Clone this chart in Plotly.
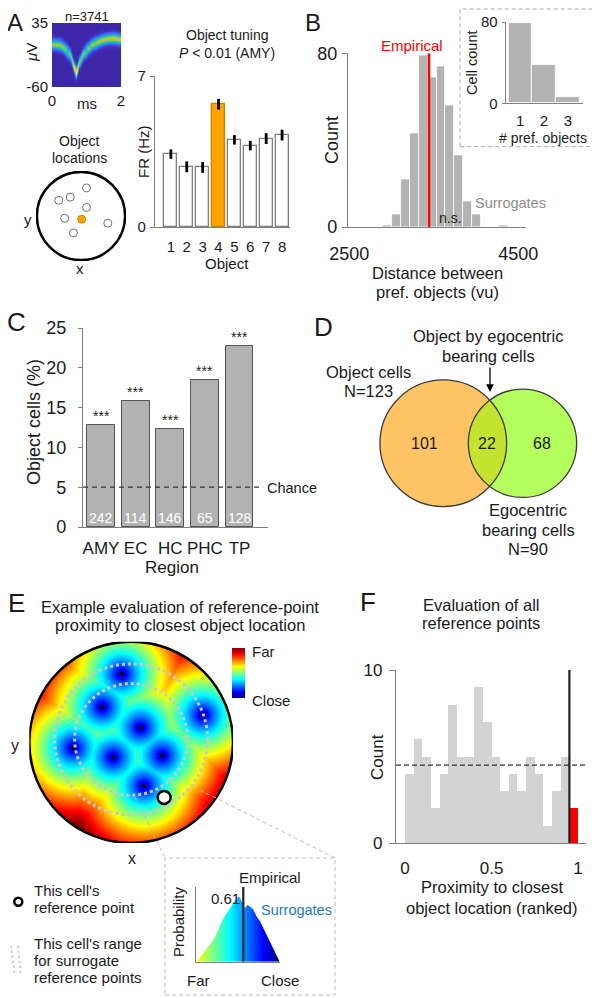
import numpy as np
import plotly.graph_objects as go

# page body has an 8px margin: the figure is sized/offset so the page matches the reference pixels
OFF = 8
W, H = 600 - OFF, 998 - OFF
def PX(x): return (x - OFF) / W
def PY(y): return 1 - (y - OFF) / H

FONT = "Liberation Sans, Arial, sans-serif"
TXT = "#1a1a1a"
AXC = "#808080"

# ---------------- data ----------------
# A: mean waveform (density band)
wf_t = [0.0, 0.1, 0.2, 0.29, 0.39, 0.49, 0.54, 0.59, 0.62, 0.65, 0.69, 0.72, 0.75,
        0.79, 0.83, 0.88, 0.93, 1.04, 1.17, 1.32, 1.46, 1.61, 1.76, 1.9, 2.0]
wf_mean = [3.5, 3.5, 2.6, 0.2, -3.5, -10.4, -16, -22, -27, -31.3, -38, -34, -29,
           -23, -18.3, -13.5, -9.5, -2.5, 3, 7.2, 10, 11.8, 12.3, 11.4, 10.4]
wf_peak = [0.6, 0.62, 0.62, 0.62, 0.6, 0.58, 0.58, 0.62, 0.7, 0.8, 1.0, 0.85, 0.7,
           0.62, 0.6, 0.6, 0.6, 0.62, 0.64, 0.65, 0.65, 0.66, 0.66, 0.66, 0.64]
n_spikes = 3741
wf_yticks = [-60, 35]
wf_yticktext = ["-60", "35"]

# A: object tuning
obj_ids = [1, 2, 3, 4, 5, 6, 7, 8]
fr_mean = [3.38, 2.79, 2.76, 5.69, 4.04, 3.77, 4.10, 4.26]
fr_sem = [0.22, 0.25, 0.25, 0.25, 0.22, 0.22, 0.25, 0.25]
pref_obj = 4

# A: object locations (arena units, radius 1)
loc_x = [0.126, -0.244, -0.504, 0.126, -0.371, 0.015, 0.607, -0.171]
loc_y = [0.637, 0.429, 0.356, 0.193, -0.051, -0.073, -0.162, -0.384]
loc_pref = 5

# B: surrogate distances
dist_centers = [2955, 3060, 3165, 3270, 3375, 3480, 3585, 3690, 3796, 3901, 4006, 4321]
dist_counts = [1, 6, 22, 43, 79, 69, 74, 56, 33, 12, 6, 1]
dist_binw = 105
dist_empirical = 3443
n_pref_objects = [1, 2, 3]
n_pref_cells = [79, 38, 6]

# C: object cells per region
regions = ["AMY", "EC", "HC", "PHC", "TP"]
pct_obj = [12.8, 15.8, 12.3, 18.5, 22.7]
n_region = [242, 114, 146, 65, 128]
chance_pct = 5

# D: venn
n_object = 123
n_ego = 90
n_both = 22

# E: object locations and reference point (arena units)
obj_x = [-0.093, -0.284, 0.706, 0.093, -0.568, -0.176, 0.307, 0.127]
obj_y = [0.678, 0.351, 0.270, 0.146, -0.057, -0.149, -0.132, -0.433]
ref_x, ref_y = 0.324, -0.547
ring_r = [0.555, 0.75]
ring_cy = 0.03
# E inset: surrogate proximity distribution
prox_x = [0.008, 0.067, 0.127, 0.167, 0.206, 0.246, 0.286, 0.325, 0.365, 0.405, 0.444,
          0.484, 0.512, 0.544, 0.563, 0.583, 0.611, 0.643, 0.683, 0.722, 0.762, 0.802,
          0.841, 0.881, 0.921, 0.960, 0.992]
prox_p = [0.0, 0.09, 0.18, 0.247, 0.29, 0.38, 0.49, 0.58, 0.65, 0.72, 0.785, 0.85, 0.875,
          0.807, 0.76, 0.72, 0.76, 0.74, 0.695, 0.605, 0.54, 0.45, 0.36, 0.27, 0.18, 0.09, 0.01]
prox_emp = 0.563

# F: ranked proximity of all cells
rank_centers = [0.025, 0.075, 0.125, 0.175, 0.225, 0.275, 0.325, 0.375, 0.425, 0.475,
                0.525, 0.575, 0.625, 0.675, 0.725, 0.775, 0.825, 0.875, 0.925, 0.975]
rank_counts = [4, 6, 5, 2, 4, 8, 5, 5, 9, 7, 5, 3, 4, 3, 5, 4, 1, 3, 5, 2]
rank_chance = 4.5
rank_thr = 0.95

PARULA = [[0, "#3E26A8"], [0.125, "#4852F4"], [0.25, "#2D87F7"], [0.375, "#12B1D6"],
          [0.5, "#37C897"], [0.625, "#ABC738"], [0.75, "#FEC338"], [0.875, "#F6E620"],
          [1, "#F9FB15"]]
JET = [[0, "#000080"], [0.125, "#0000FF"], [0.375, "#00FFFF"], [0.625, "#FFFF00"],
       [0.875, "#FF0000"], [1, "#800000"]]

fig = go.Figure()
annots = []
shapes = []

def T(text, x, y, size=15, color=TXT, xa="center", ya="middle", angle=0):
    annots.append(dict(text=text, x=PX(x), y=PY(y), xref="paper", yref="paper",
                       xanchor=xa, yanchor=ya, showarrow=False, textangle=angle, borderpad=0,
                       font=dict(size=size, color=color, family=FONT)))

def hidden(dom, rng):
    return dict(domain=dom, range=rng, visible=False, fixedrange=True)

# ---------- A: waveform ----------
vgrid = np.arange(-60, 35.5, 1.0)
Z = np.array([[p * np.exp(-(v - m) ** 2 / (2 * 5.0 ** 2)) for p, m in zip(wf_peak, wf_mean)]
              for v in vgrid])
fig.add_trace(go.Heatmap(x=wf_t, y=vgrid, z=Z, colorscale=PARULA, zmin=0, zmax=1,
                         zsmooth="best", showscale=False, xaxis="x", yaxis="y", hoverinfo="skip"))

# ---------- A: bar chart ----------
bar_cols = ["#FFA500" if i == pref_obj else "white" for i in obj_ids]
bar_lc = ["#C98200" if i == pref_obj else "#7f7f7f" for i in obj_ids]
fig.add_trace(go.Bar(x=obj_ids, y=fr_mean, width=0.82,
                     marker=dict(color=bar_cols, line=dict(color=bar_lc, width=1.3)),
                     error_y=dict(type="data", array=fr_sem, color="black", thickness=2.8, width=0),
                     xaxis="x2", yaxis="y2", showlegend=False))

# ---------- A: object locations ----------
lc = ["#FFA500" if i == loc_pref else "white" for i in range(len(loc_x))]
ll = ["#C98200" if i == loc_pref else "#707070" for i in range(len(loc_x))]
fig.add_trace(go.Scatter(x=loc_x, y=loc_y, mode="markers",
                         marker=dict(size=8, color=lc, line=dict(color=ll, width=1)),
                         xaxis="x3", yaxis="y3", showlegend=False))
shapes.append(dict(type="circle", xref="x3", yref="y3", x0=-1, x1=1, y0=-1, y1=1,
                   line=dict(color="black", width=2.5)))

# ---------- B: histogram ----------
fig.add_trace(go.Bar(x=dist_centers, y=dist_counts, width=dist_binw,
                     marker=dict(color="#B3B3B3", line=dict(color="white", width=0.8)),
                     xaxis="x4", yaxis="y4", showlegend=False))
fig.add_trace(go.Scatter(x=[dist_empirical, dist_empirical], y=[0, 80], mode="lines",
                         line=dict(color="#FF0000", width=2.6), xaxis="x4", yaxis="y4",
                         showlegend=False))
fig.add_trace(go.Bar(x=n_pref_objects, y=n_pref_cells, width=1,
                     marker=dict(color="#B3B3B3", line=dict(color="white", width=0.8)),
                     xaxis="x5", yaxis="y5", showlegend=False))

# ---------- C ----------
fig.add_trace(go.Bar(x=[1, 2, 3, 4, 5], y=pct_obj, width=0.8,
                     marker=dict(color="#B2B2B2", line=dict(color="#555555", width=1)),
                     xaxis="x6", yaxis="y6", showlegend=False))
fig.add_trace(go.Scatter(x=[0.48, 5.68], y=[chance_pct, chance_pct], mode="lines",
                         line=dict(color="#333333", width=1.2, dash="5px,4px"),
                         xaxis="x6", yaxis="y6", showlegend=False))
for i, (p, n) in enumerate(zip(pct_obj, n_region)):
    annots.append(dict(text="***", x=i + 1, y=p, xref="x6", yref="y6", yanchor="bottom",
                       showarrow=False, yshift=0, borderpad=0,
                       font=dict(size=14, color=TXT, family=FONT)))
    annots.append(dict(text=str(n), x=i + 1, y=0, xref="x6", yref="y6", yanchor="bottom",
                       showarrow=False, yshift=0, borderpad=0,
                       font=dict(size=14, color="white", family=FONT)))

# ---------- D: venn (area-proportional radii) ----------
k = 5.71
r1, r2 = k * np.sqrt(n_object), k * np.sqrt(n_ego)
c1 = (443.3, 443.3)
c2 = (522.5, 443.3)
d = c2[0] - c1[0]
a = (d ** 2 + r1 ** 2 - r2 ** 2) / (2 * d)
h = np.sqrt(r1 ** 2 - a ** 2)
th1 = np.arctan2(h, a)
th2 = np.arctan2(h, d - a)
ang1 = np.linspace(-th1, th1, 60)
ang2 = np.linspace(np.pi - th2, np.pi + th2, 60)
pts = [(c1[0] + r1 * np.cos(t), c1[1] + r1 * np.sin(t)) for t in ang1] + \
      [(c2[0] + r2 * np.cos(t), c2[1] + r2 * np.sin(t)) for t in ang2]
lens = "M " + " L ".join(f"{x:.2f},{y:.2f}" for x, y in pts) + " Z"
shapes.append(dict(type="circle", xref="x7", yref="y7", x0=c1[0] - r1, x1=c1[0] + r1,
                   y0=c1[1] - r1, y1=c1[1] + r1, fillcolor="#FFC466", line=dict(width=0)))
shapes.append(dict(type="circle", xref="x7", yref="y7", x0=c2[0] - r2, x1=c2[0] + r2,
                   y0=c2[1] - r2, y1=c2[1] + r2, fillcolor="#B4FF5E", line=dict(width=0)))
shapes.append(dict(type="path", xref="x7", yref="y7", path=lens, fillcolor="#C4E32E",
                   line=dict(width=0)))
for (cx, cy), r in ((c1, r1), (c2, r2)):
    shapes.append(dict(type="circle", xref="x7", yref="y7", x0=cx - r, x1=cx + r,
                       y0=cy - r, y1=cy + r, line=dict(color="#3a3a3a", width=1.3)))
fig.add_trace(go.Scatter(x=[300, 600], y=[300, 600], mode="markers", marker=dict(opacity=0),
                         xaxis="x7", yaxis="y7", showlegend=False, hoverinfo="skip"))
annots.append(dict(text=str(n_object - n_both), x=(c1[0] - r1 + c2[0] - r2) / 2, y=c1[1],
                   xref="x7", yref="y7", showarrow=False, font=dict(size=16, color=TXT, family=FONT)))
annots.append(dict(text=str(n_both), x=(c2[0] - r2 + c1[0] + r1) / 2, y=c1[1],
                   xref="x7", yref="y7", showarrow=False, font=dict(size=16, color=TXT, family=FONT)))
annots.append(dict(text=str(n_ego - n_both), x=(c1[0] + r1 + c2[0] + r2) / 2, y=c1[1],
                   xref="x7", yref="y7", showarrow=False, font=dict(size=16, color=TXT, family=FONT)))

# ---------- E: arena heatmap (proximity to closest object) ----------
g = np.linspace(-1, 1, 301)
GX, GY = np.meshgrid(g, g)
Dm = np.min(np.sqrt((GX[..., None] - np.array(obj_x)) ** 2 + (GY[..., None] - np.array(obj_y)) ** 2), axis=-1)
Zd = np.clip(Dm / 0.75, 0, 1) ** 0.75
Zd[GX ** 2 + GY ** 2 > 1.0] = np.nan
fig.add_trace(go.Heatmap(x=g, y=g, z=Zd, colorscale=JET, zmin=0, zmax=1, hoverinfo="skip",
                         xaxis="x8", yaxis="y8",
                         colorbar=dict(x=PX(232), xanchor="left", xpad=0, thickness=13,
                                       len=50 / H, lenmode="fraction", y=PY(673), yanchor="middle",
                                       ypad=0, outlinewidth=0, showticklabels=False, ticks="")))
for r in ring_r:
    shapes.append(dict(type="circle", xref="x8", yref="y8", x0=-r, x1=r, y0=ring_cy - r,
                       y1=ring_cy + r, line=dict(color="#C8C8C8", width=3, dash="3px,3px")))
shapes.append(dict(type="circle", xref="x8", yref="y8", x0=-1, x1=1, y0=-1, y1=1,
                   line=dict(color="black", width=2.5)))
fig.add_trace(go.Scatter(x=obj_x, y=obj_y, mode="markers", marker=dict(size=4, color="black"),
                         xaxis="x8", yaxis="y8", showlegend=False))
fig.add_trace(go.Scatter(x=[ref_x], y=[ref_y], mode="markers",
                         marker=dict(size=13, color="white", line=dict(color="black", width=2.5)),
                         xaxis="x8", yaxis="y8", showlegend=False))

# E inset
fig.add_trace(go.Scatter(x=prox_x, y=prox_p, mode="lines", line=dict(width=0, color="#1030A0"),
                         fill="tozeroy",
                         fillgradient=dict(type="horizontal", start=0, stop=1,
                                           colorscale=[[0, "#FFFF00"], [0.2, "#80FF80"],
                                                       [0.4, "#00FFFF"], [0.6, "#0080FF"],
                                                       [0.8, "#0000FF"], [1, "#000080"]]),
                         xaxis="x9", yaxis="y9", showlegend=False))
fig.add_trace(go.Scatter(x=[prox_emp, prox_emp], y=[0, 1], mode="lines",
                         line=dict(color="#222222", width=2.2), xaxis="x9", yaxis="y9",
                         showlegend=False))

# ---------- F ----------
fcols = ["#FF0000" if c > rank_thr else "#D3D3D3" for c in rank_centers]
fig.add_trace(go.Bar(x=rank_centers, y=rank_counts, width=0.05,
                     marker=dict(color=fcols, line=dict(width=0)),
                     xaxis="x10", yaxis="y10", showlegend=False))
fig.add_trace(go.Scatter(x=[-0.052, 1.046], y=[rank_chance, rank_chance], mode="lines",
                         line=dict(color="#333333", width=1.1, dash="5px,3px"),
                         xaxis="x10", yaxis="y10", showlegend=False))
fig.add_trace(go.Scatter(x=[rank_thr, rank_thr], y=[0, 10], mode="lines",
                         line=dict(color="#222222", width=2.2), xaxis="x10", yaxis="y10",
                         showlegend=False))

# ---------- axes ----------
tf = lambda s: dict(size=s, color=TXT, family=FONT)
lay = dict(
    xaxis=dict(domain=[PX(52), PX(121)], range=[0, 2], tickvals=[0, 2], ticktext=["0", "2"],
               ticks="", showline=False, showgrid=False, zeroline=False, tickfont=tf(15),
               ticklabelstandoff=3, fixedrange=True),
    yaxis=dict(domain=[PY(87), PY(23)], range=[-60, 35], tickvals=wf_yticks,
               ticktext=wf_yticktext, ticks="",
               showline=False, showgrid=False, zeroline=False, tickfont=tf(15),
               ticklabelstandoff=3, fixedrange=True),
    xaxis2=dict(domain=[PX(155), PX(290)], range=[0, 8.5], tickvals=obj_ids, ticks="",
                showline=True, linecolor=AXC, linewidth=1.2, showgrid=False, zeroline=False,
                tickfont=tf(15), ticklabelstandoff=6, anchor="y2", fixedrange=True),
    yaxis2=dict(domain=[PY(227), PY(76)], range=[0, 7], tickvals=[0, 7], ticks="outside",
                ticklen=4, tickcolor=AXC, showline=True, linecolor=AXC, linewidth=1.2,
                showgrid=False, zeroline=False, tickfont=tf(15), ticklabelstandoff=1,
                anchor="x2", fixedrange=True),
    xaxis3=hidden([PX(36), PX(126)], [-1.02, 1.02]),
    yaxis3=dict(hidden([PY(261), PY(171)], [-1.02, 1.02]), anchor="x3"),
    xaxis4=dict(domain=[PX(348), PX(526)], range=[2485, 4591], tickvals=[2500, 4500],
                ticks="", showline=True, linecolor=AXC, linewidth=1.2, showgrid=False,
                zeroline=False, tickfont=tf(18), ticklabelstandoff=10, anchor="y4", fixedrange=True),
    yaxis4=dict(domain=[PY(227), PY(53.3)], range=[0, 80], tickvals=[0, 80], ticks="outside",
                ticklen=5, tickcolor=AXC, showline=True, linecolor=AXC, linewidth=1.2,
                showgrid=False, zeroline=False, tickfont=tf(18), ticklabelstandoff=1,
                anchor="x4", fixedrange=True),
    xaxis5=dict(domain=[PX(505.7), PX(583.3)], range=[0.39, 3.65], tickvals=[1, 2, 3],
                ticks="", showline=True, linecolor=AXC, linewidth=1.2, showgrid=False,
                zeroline=False, tickfont=tf(15), ticklabelstandoff=4, anchor="y5", fixedrange=True),
    yaxis5=dict(domain=[PY(103.3), PY(22)], range=[0, 80], tickvals=[0, 80], ticks="outside",
                ticklen=3, tickcolor=AXC, showline=True, linecolor=AXC, linewidth=1.2,
                showgrid=False, zeroline=False, tickfont=tf(15), ticklabelstandoff=1,
                anchor="x5", fixedrange=True),
    xaxis6=dict(domain=[PX(83), PX(268)], range=[0.48, 5.82], tickvals=[1, 2, 3, 4, 5],
                ticktext=regions, ticks="", showline=True, linecolor=AXC, linewidth=1.2,
                showgrid=False, zeroline=False, tickfont=tf(17), ticklabelstandoff=5,
                anchor="y6", fixedrange=True),
    yaxis6=dict(domain=[PY(527), PY(328)], range=[0, 25], tickvals=[0, 5, 10, 15, 20, 25],
                ticks="outside", ticklen=4, tickcolor=AXC, showline=True, linecolor=AXC,
                linewidth=1.2, showgrid=False, zeroline=False, tickfont=tf(18),
                ticklabelstandoff=8, anchor="x6", fixedrange=True),
    xaxis7=hidden([PX(300), PX(600)], [300, 600]),
    yaxis7=dict(hidden([PY(600), PY(300)], [600, 300]), anchor="x7"),
    xaxis8=hidden([PX(29.3), PX(233)], [-1, 1]),
    yaxis8=dict(hidden([PY(843), PY(641.7)], [-1, 1]), anchor="x8"),
    xaxis9=dict(domain=[PX(196), PX(280)], range=[0, 1], showticklabels=False, ticks="",
                showline=True, linecolor=AXC, linewidth=1.2, showgrid=False, zeroline=False,
                anchor="y9", fixedrange=True),
    yaxis9=dict(domain=[PY(961.7), PY(887)], range=[0, 1], showticklabels=False, ticks="",
                showline=True, linecolor=AXC, linewidth=1.2, showgrid=False, zeroline=False,
                anchor="x9", fixedrange=True),
    xaxis10=dict(domain=[PX(396), PX(586)], range=[-0.052, 1.046], tickvals=[0, 0.5, 1],
                 ticktext=["0", "0.5", "1"], ticks="", showline=True, linecolor=AXC,
                 linewidth=1.2, showgrid=False, zeroline=False, tickfont=tf(17),
                 ticklabelstandoff=9, anchor="y10", fixedrange=True),
    yaxis10=dict(domain=[PY(843), PY(670)], range=[0, 10], tickvals=[0, 10], ticks="outside",
                 ticklen=6, tickcolor=AXC, showline=True, linecolor=AXC, linewidth=1.2,
                 showgrid=False, zeroline=False, tickfont=tf(17), ticklabelstandoff=3,
                 anchor="x10", fixedrange=True),
)

# ---------- text ----------
T("A", 15, 8.5, size=24, ya="top")
T("B", 313, 8.5, size=24, ya="top")
for L, x, y in (("C", 16, 322), ("D", 323, 327), ("E", 16, 603), ("F", 368, 602)):
    T(L, x, y, size=26)

# A
T(f"n={n_spikes}", 87, 8.5, 13, ya="top")
T("ms", 87, 104, 15)
T("<i>μ</i>V", 32, 53, 15, angle=-90)
T("Object tuning", 227, 35, 14)
T("<i>P</i> < 0.01 (AMY)", 227, 53, 14)
T("FR (Hz)", 143, 152, 15, angle=-90)
T("Object", 227, 263, 15)
T("Object", 79, 141, 14)
T("locations", 79, 158, 14)
T("y", 28, 219, 15)
T("x", 80, 268, 15)

# B
T("Count", 332, 140, 18, angle=-90)
T("Distance between", 437, 273, 16.5)
T("pref. objects (vu)", 437, 292, 16.5)
T("Empirical", 412, 45, 15, color="#FF0000")
T("n.s.", 450, 218, 14)
T("Surrogates", 510, 203, 14.5, color="#8c8c8c")
T("Cell count", 472, 63, 14.5, angle=-90)
T("# pref. objects", 543, 138, 14)
shapes.append(dict(type="rect", xref="paper", yref="paper", x0=PX(460), x1=PX(597.5),
                   y0=PY(146.7), y1=PY(9), line=dict(color="#A8A8A8", width=1, dash="4px,3px")))

# C
T("Object cells (%)", 34, 422, 18, angle=-90)
T("Region", 172, 567, 17)
T("Chance", 266, 488, 14.5, xa="left")

# D
T("Object cells", 368, 372, 16.5)
T("N=123", 368, 391, 16.5)
T("Object by egocentric", 488, 336, 16.5)
T("bearing cells", 488, 356, 16.5)
T("Egocentric", 528, 510, 16.5)
T("bearing cells", 528, 530, 16.5)
T("N=90", 528, 549, 16.5)
annots.append(dict(text="", x=PX(490), y=PY(392), xref="paper", yref="paper", showarrow=True,
                   ax=0, ay=-26, arrowhead=2, arrowsize=1.2, arrowwidth=1.3, arrowcolor="black"))

# E
T("Example evaluation of reference-point", 180, 607, 16.5)
T("proximity to closest object location", 180, 625, 16.5)
T("Far", 251, 651, 15, xa="left")
T("Close", 251, 700, 15, xa="left")
T("y", 15, 745, 16)
T("x", 132, 858, 16)
T("This cell's", 33, 890, 15, xa="left")
T("reference point", 33, 907, 15, xa="left")
T("This cell's range", 33, 943, 15, xa="left")
T("for surrogate", 33, 960, 15, xa="left")
T("reference points", 33, 977, 15, xa="left")
shapes.append(dict(type="circle", xref="paper", yref="paper", x0=PX(14.3), x1=PX(22.3),
                   y0=PY(905.7), y1=PY(897.7), line=dict(color="black", width=2.5),
                   fillcolor="white"))
for x0, x1 in ((11, 15), (18, 21)):
    shapes.append(dict(type="line", xref="paper", yref="paper", x0=PX(x0), x1=PX(x1),
                       y0=PY(946), y1=PY(976), line=dict(color="#C8C8C8", width=2, dash="2px,3px")))
shapes.append(dict(type="line", xref="paper", yref="paper", x0=PX(135), y0=PY(797), x1=PX(165),
                   y1=PY(858), line=dict(color="#BBBBBB", width=1, dash="4px,3px")))
shapes.append(dict(type="line", xref="paper", yref="paper", x0=PX(200), y0=PY(790), x1=PX(335),
                   y1=PY(858), line=dict(color="#BBBBBB", width=1, dash="4px,3px")))
shapes.append(dict(type="rect", xref="paper", yref="paper", x0=PX(165), x1=PX(335),
                   y0=PY(995), y1=PY(858), line=dict(color="#BBBBBB", width=1, dash="4px,3px")))
T("Empirical", 270, 877, 15)
T("0.61", 225, 898, 15)
T("Surrogates", 260, 910, 14.5, color="#1F78C0", xa="left")
T("Probability", 178, 922, 15, angle=-90)
T("Far", 198, 980, 15)
T("Close", 280, 980, 15)

# F
T("Evaluation of all", 481, 605, 16.5)
T("reference points", 481, 623, 16.5)
T("Count", 377, 757, 17, angle=-90)
T("Proximity to closest", 492, 887, 16.5)
T("object location (ranked)", 492, 908, 16.5)

fig.update_layout(width=W, height=H, autosize=False, margin=dict(l=0, r=0, t=0, b=0, pad=0),
                  paper_bgcolor="white", plot_bgcolor="rgba(0,0,0,0)", showlegend=False,
                  font=dict(family=FONT, color=TXT), annotations=annots, shapes=shapes,
                  bargap=0, **lay)
fig.update_xaxes(automargin=False)
fig.update_yaxes(automargin=False)
fig.write_html("out.html")
